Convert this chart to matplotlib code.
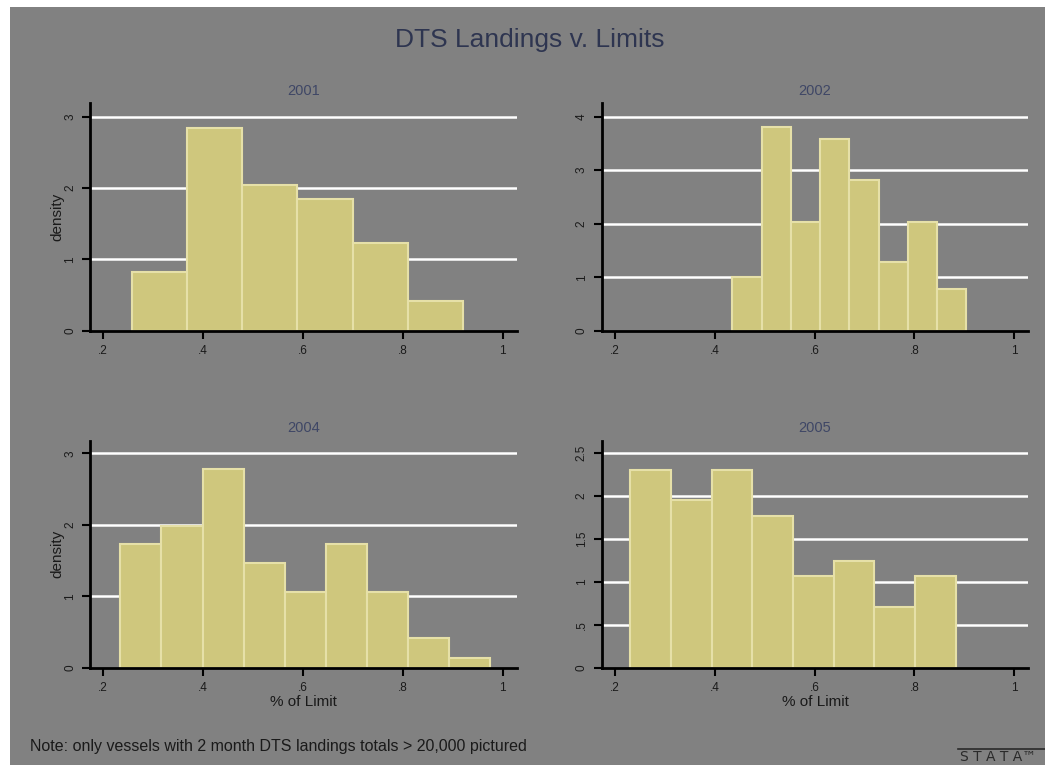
import matplotlib
matplotlib.use("Agg")
import matplotlib.pyplot as plt
from matplotlib.lines import Line2D

plt.rcParams['font.family'] = ['Liberation Sans', 'DejaVu Sans']

# Histogram bins (left edges, common width) and densities per year
years = ["2001", "2002", "2004", "2005"]

edges_2001 = [0.2574, 0.3680, 0.4786, 0.5892, 0.6998, 0.8104]
width_2001 = 0.1106
dens_2001 = [0.818, 2.85, 2.04, 1.846, 1.224, 0.416]

edges_2002 = [0.4353, 0.4939, 0.5525, 0.6111, 0.6697, 0.7283, 0.7869, 0.8455]
width_2002 = 0.0586
dens_2002 = [1.009, 3.813, 2.037, 3.576, 2.816, 1.29, 2.037, 0.773]

edges_2004 = [0.2348, 0.3170, 0.3992, 0.4814, 0.5636, 0.6458, 0.7280, 0.8102, 0.8924]
width_2004 = 0.0822
dens_2004 = [1.728, 1.984, 2.776, 1.462, 1.067, 1.728, 1.067, 0.4145, 0.144]

edges_2005 = [0.2309, 0.3124, 0.3939, 0.4754, 0.5569, 0.6384, 0.7199, 0.8014]
width_2005 = 0.0815
dens_2005 = [2.306, 1.957, 2.306, 1.770, 1.071, 1.25, 0.7065, 1.071]

x_ticks = [0.2, 0.4, 0.6, 0.8, 1.0]
x_ticklabels = [".2", ".4", ".6", ".8", "1"]

y_ticks_2001 = [0, 1, 2, 3]
y_ticks_2002 = [0, 1, 2, 3, 4]
y_ticks_2004 = [0, 1, 2, 3]
y_ticks_2005 = [0, 0.5, 1, 1.5, 2, 2.5]
y_labels_2005 = ["0", ".5", "1", "1.5", "2", "2.5"]

title = "DTS Landings v. Limits"
note = "Note: only vessels with 2 month DTS landings totals > 20,000 pictured"
x_title = "% of Limit"
y_title = "density"

BG = "#818181"
BAR = "#CFC77D"
BAR_EDGE = "#E6E0A8"
TITLE_C = "#2E3550"
SUB_C = "#3F4766"

W, H = 1045, 765
fig = plt.figure(figsize=(W / 100, H / 100), dpi=100, facecolor="white")

# gray plot region with thin white margin at top and left
fig.patches.append(plt.Rectangle((10 / W, 0), 1 - 10 / W, 1 - 7 / H,
                                 transform=fig.transFigure, facecolor=BG,
                                 edgecolor="none", zorder=-10))


def px_axes(left, right, top, bottom):
    return [left / W, 1 - bottom / H, (right - left) / W, (bottom - top) / H]


panels = [
    dict(year=years[0], edges=edges_2001, width=width_2001, dens=dens_2001,
         yticks=y_ticks_2001, ylabels=None, ymax=3.19,
         rect=px_axes(90, 516.7, 103.3, 330.7), ylab=True, xlab=False),
    dict(year=years[1], edges=edges_2002, width=width_2002, dens=dens_2002,
         yticks=y_ticks_2002, ylabels=None, ymax=4.25,
         rect=px_axes(601.7, 1028.3, 103.3, 330.7), ylab=False, xlab=False),
    dict(year=years[2], edges=edges_2004, width=width_2004, dens=dens_2004,
         yticks=y_ticks_2004, ylabels=None, ymax=3.176,
         rect=px_axes(90, 516.7, 440.7, 668), ylab=True, xlab=True),
    dict(year=years[3], edges=edges_2005, width=width_2005, dens=dens_2005,
         yticks=y_ticks_2005, ylabels=y_labels_2005, ymax=2.646,
         rect=px_axes(601.7, 1028.3, 440.7, 668), ylab=False, xlab=True),
]

for p in panels:
    ax = fig.add_axes(p["rect"])
    ax.patch.set_visible(False)
    ax.set_xlim(0.174, 1.028)
    ax.set_ylim(0, p["ymax"])

    for t in p["yticks"][1:]:
        ax.axhline(t, color="white", lw=1.8, zorder=1)

    ax.bar(p["edges"], p["dens"], width=p["width"], align="edge",
           color=BAR, edgecolor=BAR_EDGE, linewidth=1.5, zorder=2)

    for s in ("top", "right"):
        ax.spines[s].set_visible(False)
    for s in ("left", "bottom"):
        ax.spines[s].set_linewidth(2.0)
        ax.spines[s].set_color("black")
        ax.spines[s].set_zorder(3)

    ax.set_xticks(x_ticks)
    ax.set_xticklabels(x_ticklabels)
    ax.set_yticks(p["yticks"])
    if p["ylabels"]:
        ax.set_yticklabels(p["ylabels"])
    else:
        ax.set_yticklabels([str(v) for v in p["yticks"]])
    ax.tick_params(axis="both", direction="out", length=6, width=1.5,
                   color="black", labelsize=8.5, labelcolor="#1a1a1a")
    ax.tick_params(axis="x", pad=4)
    ax.tick_params(axis="y", pad=4)
    for lab in ax.get_yticklabels():
        lab.set_rotation(90)
        lab.set_va("center")

    ax.set_title(p["year"], fontsize=10.5, color=SUB_C, pad=6)
    if p["ylab"]:
        ax.set_ylabel(y_title, fontsize=11, color="#1a1a1a", labelpad=0)
    if p["xlab"]:
        ax.set_xlabel(x_title, fontsize=11, color="#1a1a1a", labelpad=1)

fig.text(530 / W, 1 - 40 / H, title, ha="center", va="center",
         fontsize=19, color=TITLE_C)
fig.text(30 / W, 1 - 746 / H, note, ha="left", va="center",
         fontsize=11.5, color="#1a1a1a")

# Stata mark in the lower right corner
fig.lines.append(Line2D([958 / W, 1.0], [1 - 749 / H, 1 - 749 / H],
                        transform=fig.transFigure, color="#2a2a2a", lw=1.2))
fig.text(960 / W, 1 - 757 / H, "S T A T A™", ha="left", va="center",
         fontsize=10, color="#2a2a2a", family=["DejaVu Sans"])

fig.savefig("out.png", dpi=100, facecolor=fig.get_facecolor())
